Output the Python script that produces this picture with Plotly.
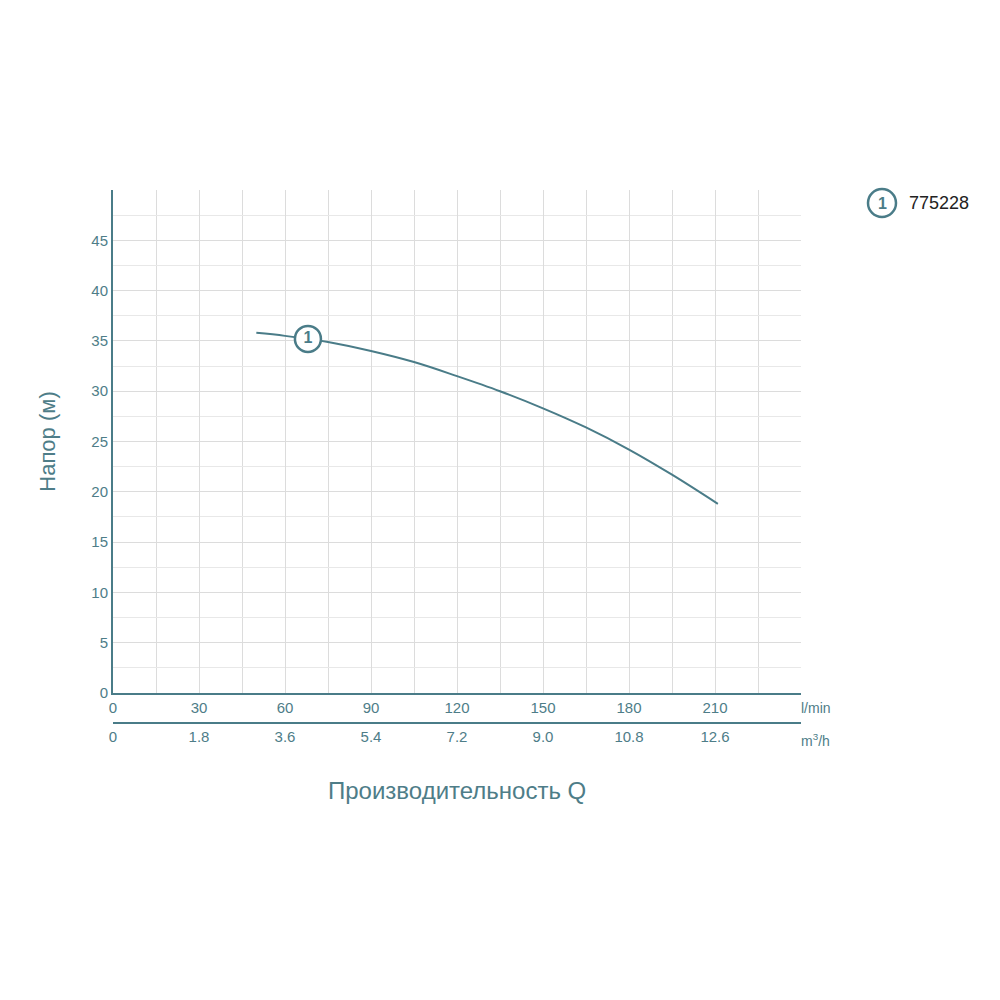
import plotly.graph_objects as go

q_lmin = [50, 60, 75, 90, 105, 120, 135, 150, 165, 180, 195, 211]
head_m = [35.8, 35.5, 34.9, 34.0, 32.9, 31.5, 30.0, 28.3, 26.4, 24.2, 21.7, 18.8]
x_ticks = [0, 30, 60, 90, 120, 150, 180, 210]
x2_ticks = [0, 1.8, 3.6, 5.4, 7.2, 9.0, 10.8, 12.6]
x2_labels = ["0", "1.8", "3.6", "5.4", "7.2", "9.0", "10.8", "12.6"]
y_ticks = [0, 5, 10, 15, 20, 25, 30, 35, 40, 45]
series_name = "775228"
label_q, label_h = 68, 35.2

teal = "#4a7c88"
txt = "#4e7d88"
font = "Arial, Liberation Sans, sans-serif"

def px(x):
    return (x - 112) / 688

def py(y):
    return (723 - y) / 533

fig = go.Figure()
fig.add_trace(go.Scatter(x=q_lmin, y=head_m, mode="lines", line=dict(color=teal, width=2, shape="spline"),
                         showlegend=False, hoverinfo="skip"))
fig.add_trace(go.Scatter(x=[label_q], y=[label_h], mode="markers+text", text=["<b>1</b>"],
                         marker=dict(size=26, color="white", line=dict(color=teal, width=2.5)),
                         textfont=dict(color=teal, size=16, family=font), showlegend=False))
fig.add_trace(go.Scatter(x=[None], y=[None], xaxis="x2", showlegend=False))

dom_bottom = 30 / 533
fig.update_layout(
    width=1000, height=1000, plot_bgcolor="white", paper_bgcolor="white",
    margin=dict(l=105, r=207, t=182, b=285),
    font=dict(family=font, color=txt, size=15),
    xaxis=dict(range=[0, 240], tickvals=x_ticks, showgrid=True, gridcolor="#dcdcdc",
               minor=dict(dtick=15, showgrid=True, gridcolor="#dcdcdc"),
               showline=True, linecolor=teal, linewidth=2, zeroline=False,
               ticks="", tickfont=dict(size=15, color=txt)),
    xaxis2=dict(range=[0, 14.4], tickvals=x2_ticks, ticktext=x2_labels, overlaying="x", anchor="free",
                position=0, side="bottom", showgrid=False, showline=True, linecolor=teal, linewidth=2,
                ticks="", zeroline=False, tickfont=dict(size=15, color=txt)),
    yaxis=dict(domain=[dom_bottom, 1], range=[0, 50], tickvals=y_ticks, showgrid=True, gridcolor="#dcdcdc",
               minor=dict(dtick=2.5, showgrid=True, gridcolor="#e8e8e8"),
               showline=True, linecolor=teal, linewidth=2, zeroline=False, ticks="",
               tickfont=dict(size=15, color=txt),
               title=dict(text="Напор (м)", font=dict(size=22, color=txt), standoff=30)),
    annotations=[
        dict(text="l/min", x=px(815), y=py(708), xref="paper", yref="paper", showarrow=False,
             xanchor="center", yanchor="middle", font=dict(size=14, color=txt)),
        dict(text="m<sup>3</sup>/h", x=px(814), y=py(740), xref="paper", yref="paper", showarrow=False,
             xanchor="center", yanchor="middle", font=dict(size=14, color=txt)),
        dict(text="Производительность Q", x=0.5, y=py(790), xref="paper", yref="paper",
             showarrow=False, xanchor="center", yanchor="middle", font=dict(size=24, color=txt)),
        dict(text="<b>1</b>", x=px(881), y=py(203), xref="paper", yref="paper", showarrow=False,
             xanchor="center", yanchor="middle", font=dict(size=16, color=teal)),
        dict(text=series_name, x=px(906), y=py(203), xref="paper", yref="paper", showarrow=False,
             xanchor="left", yanchor="middle", font=dict(size=18, color="#222222")),
    ],
)
fig.add_shape(type="circle", xref="paper", yref="paper", x0=px(867), x1=px(895),
              y0=py(217), y1=py(189), line=dict(color=teal, width=2.5))
fig.write_html("out.html")
